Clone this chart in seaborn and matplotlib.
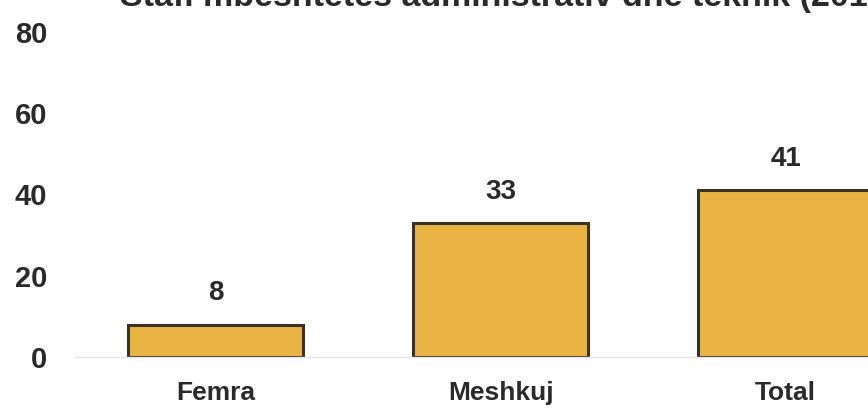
# stafi mbeshtetes - grafik me shtylla
import matplotlib
matplotlib.use("Agg")
import matplotlib.pyplot as plt
import seaborn as sns
import pandas as pd

kategorite = ["Femra", "Meshkuj", "Total"]
vlerat = [8, 33, 41]
y_ticks = [0, 20, 40, 60, 80]
titulli = "Stafi mbështetës administrativ dhe teknik (2016)"

sns.set_theme(style="white")
plt.rcParams["font.family"] = ["Liberation Sans", "DejaVu Sans"]

df = pd.DataFrame({"kategoria": kategorite, "vlera": vlerat})

fig = plt.figure(figsize=(8.68, 4.16), dpi=100)
ax = fig.add_axes([75 / 868, 1 - 357 / 416, 1 - 75 / 868, 325 / 416])

sns.barplot(data=df, x="kategoria", y="vlera", color="#E9B444",
            saturation=1, width=0.615, edgecolor="#3b3222", linewidth=2.2, ax=ax)

# etiketat mbi shtylla
for i, v in enumerate(vlerat):
    ax.text(i, v + 4.5, str(v), ha="center", va="bottom", fontsize=20,
            fontweight="bold", color="#2a2a2a")

ax.set_ylim(0, 80)
ax.set_xlim(-0.493, 2.289)
ax.set_yticks(y_ticks)
ax.set_yticklabels([str(t) for t in y_ticks], fontsize=21, fontweight="bold",
                   color="#2a2a2a")
ax.set_xticks(range(len(kategorite)))
ax.set_xticklabels(kategorite, fontsize=19, fontweight="bold", color="#2a2a2a")
ax.tick_params(axis="y", length=0, pad=20)
ax.tick_params(axis="x", length=0, pad=17)
ax.set_xlabel("")
ax.set_ylabel("")
for s in ["top", "right", "left"]:
    ax.spines[s].set_visible(False)
ax.spines["bottom"].set_color("#e4e4e4")
ax.spines["bottom"].set_linewidth(1)

# titulli i prere ne krye (si ne origjinal)
fig.text(120 / 868, 1 - 6 / 416, titulli, ha="left", va="baseline",
         fontsize=24.5, fontweight="bold", color="#2a2a2a")

fig.savefig("out.png", dpi=100)
